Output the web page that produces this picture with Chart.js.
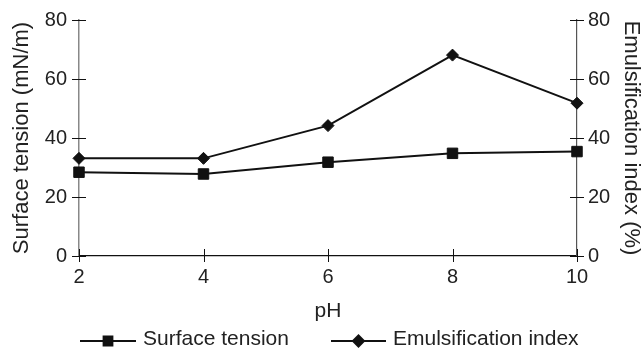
<!DOCTYPE html>
<html>
<head>
<meta charset="utf-8">
<script src="https://cdn.jsdelivr.net/npm/chart.js@4"></script>
<style>
  html, body { margin: 0; padding: 0; background: #fff; }
  canvas { display: block; }
</style>
</head>
<body>
<canvas id="phChart" width="644" height="349"></canvas>
<script>
// pH sweep: surface tension (left axis) and emulsification index (right axis)
const phValues = [2, 4, 6, 8, 10];
const surfaceTension = [28.4, 27.8, 31.8, 34.8, 35.4];
const emulsificationIndex = [33.1, 33.1, 44.2, 68.1, 51.8];
const yTickValues = [0, 20, 40, 60, 80];
const legendLabels = ['Surface tension', 'Emulsification index'];

const FONT = '"Liberation Sans", Arial, Helvetica, sans-serif';
const INK = '#222';

const toPoints = ys => phValues.map((x, i) => ({ x, y: ys[i] }));

// tick marks that cross the axis line on both sides
const crossTicks = {
    id: 'crossTicks',
    afterDatasetsDraw(chart) {
        const ctx = chart.ctx;
        const { x, yLeft, yRight } = chart.scales;
        ctx.save();
        ctx.lineWidth = 1;
        ctx.strokeStyle = '#111';
        x.ticks.forEach(t => {
            const px = Math.round(x.getPixelForValue(t.value)) + 0.5;
            ctx.beginPath();
            ctx.moveTo(px, x.top - 7);
            ctx.lineTo(px, x.top + 6);
            ctx.stroke();
        });
        [[yLeft, chart.chartArea.left], [yRight, chart.chartArea.right]].forEach(([s, edge]) => {
            s.ticks.forEach(t => {
                const py = Math.round(s.getPixelForValue(t.value)) + 0.5;
                ctx.beginPath();
                ctx.moveTo(edge - 7, py);
                ctx.lineTo(edge + 7, py);
                ctx.stroke();
            });
        });
        ctx.restore();
    }
};

// legend: short line with the series marker in the middle, then the label
const lineLegend = {
    id: 'lineLegend',
    afterDraw(chart) {
        const ctx = chart.ctx;
        const items = [
            { x0: 80, x1: 136, tx: 143, style: 'rect', r: 6.2 },
            { x0: 331, x1: 386, tx: 393, style: 'rectRot', r: 5.5 }
        ];
        const y = 341;
        ctx.save();
        items.forEach((it, i) => {
            ctx.strokeStyle = '#111';
            ctx.fillStyle = '#111';
            ctx.lineWidth = 2;
            ctx.beginPath();
            ctx.moveTo(it.x0, y);
            ctx.lineTo(it.x1, y);
            ctx.stroke();
            Chart.helpers.drawPoint(ctx, { pointStyle: it.style, radius: it.r, borderWidth: 1 }, (it.x0 + it.x1) / 2, y);
            ctx.fillStyle = INK;
            ctx.font = '21px ' + FONT;
            ctx.textBaseline = 'middle';
            ctx.textAlign = 'left';
            ctx.fillText(legendLabels[i], it.tx, y - 2);
        });
        ctx.restore();
    }
};

// pin the vertical axes: fixed width, no extra top/bottom padding for the end labels
const pinY = width => s => { s.width = width; s.paddingTop = 0; s.paddingBottom = 0; };

new Chart(document.getElementById('phChart'), {
    type: 'line',
    data: {
        datasets: [
            {
                label: legendLabels[0],
                data: toPoints(surfaceTension),
                yAxisID: 'yLeft',
                borderColor: '#111',
                backgroundColor: '#111',
                borderWidth: 2,
                pointStyle: 'rect',
                pointRadius: 7.4,
                pointBorderWidth: 1,
                tension: 0,
                clip: false
            },
            {
                label: legendLabels[1],
                data: toPoints(emulsificationIndex),
                yAxisID: 'yRight',
                borderColor: '#111',
                backgroundColor: '#111',
                borderWidth: 2,
                pointStyle: 'rectRot',
                pointRadius: 6,
                pointBorderWidth: 1,
                tension: 0,
                clip: false
            }
        ]
    },
    options: {
        responsive: false,
        animation: false,
        events: [],
        layout: { padding: { top: 20, left: 0, right: 0, bottom: 0 } },
        plugins: { legend: { display: false }, tooltip: { enabled: false } },
        scales: {
            x: {
                type: 'linear',
                min: 2,
                max: 10,
                afterBuildTicks: s => { s.ticks = phValues.map(v => ({ value: v })); },
                afterFit: s => { s.height = 93; },
                grid: { display: false, drawTicks: false },
                border: { display: true, color: '#111', width: 1.3 },
                ticks: { padding: 9, color: INK, font: { family: FONT, size: 20 } },
                title: { display: true, text: 'pH', color: INK, padding: { top: 0, bottom: 25 }, font: { family: FONT, size: 21 } }
            },
            yLeft: {
                position: 'left',
                min: 0,
                max: 80,
                afterBuildTicks: s => { s.ticks = yTickValues.map(v => ({ value: v })); },
                afterFit: pinY(79),
                grid: { display: false, drawTicks: false },
                border: { display: true, color: '#888', width: 1.5 },
                ticks: { padding: 12, color: INK, font: { family: FONT, size: 20 } },
                title: { display: true, text: 'Surface tension (mN/m)', color: INK, padding: { top: 9 }, font: { family: FONT, size: 22 } }
            },
            yRight: {
                position: 'right',
                min: 0,
                max: 80,
                afterBuildTicks: s => { s.ticks = yTickValues.map(v => ({ value: v })); },
                afterFit: pinY(67),
                grid: { display: false, drawTicks: false },
                border: { display: true, color: '#555', width: 1.2 },
                ticks: { padding: 11, color: INK, font: { family: FONT, size: 20 } },
                title: { display: true, text: 'Emulsification index (%)', color: INK, padding: { top: 0 }, font: { family: FONT, size: 22 } }
            }
        }
    },
    plugins: [crossTicks, lineLegend]
});
</script>
</body>
</html>
